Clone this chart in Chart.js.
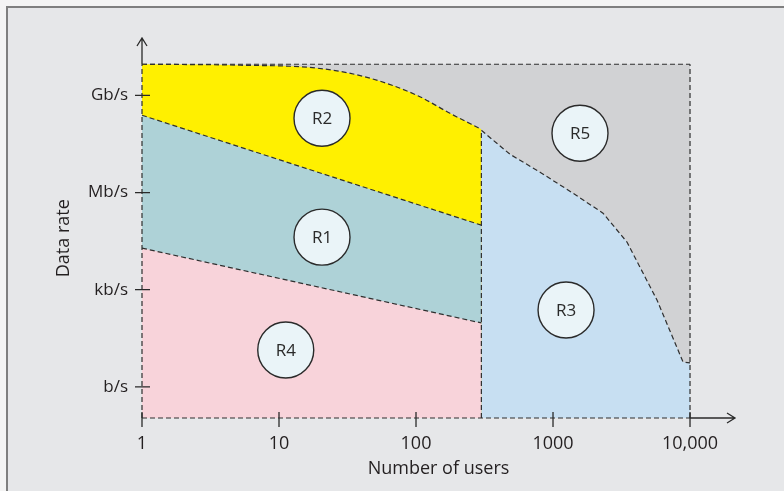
<!DOCTYPE html>
<html>
<head>
<meta charset="utf-8">
<script src="https://cdn.jsdelivr.net/npm/chart.js@4"></script>
<style>
  body { margin: 0; background: #f4f4f4; }
  #wrap { width: 784px; height: 491px; }
</style>
</head>
<body>
<div id="wrap"><canvas id="myChart" width="784" height="491"></canvas></div>
<script>
// axis ticks
const xTickValues = [1, 10, 100, 1000, 10000];
const xTickLabels = ["1", "10", "100", "1000", "10,000"];
const yTickValues = [0, 1, 2, 3];
const yTickLabels = ["b/s", "kb/s", "Mb/s", "Gb/s"];

// region outlines (x = number of users, y = data rate level, 0 = b/s ... 3 = Gb/s)
const rateFloor = -0.32;
const rateCeil = 3.32;
const r5Users = [1, 10000];
const r5Rate = [3.32, 3.32];
const r2Users = [1, 5.2, 18.9, 43.9, 101.7, 177, 300];
const r2Rate = [3.32, 3.31, 3.28, 3.185, 3.0, 2.815, 2.65];
const r1Users = [1, 300];
const r1Rate = [2.795, 1.664];
const r4Users = [1, 300];
const r4Rate = [1.428, 0.658];
const r3Users = [300, 485, 804, 1400, 2317, 3467, 5740, 8890, 10000];
const r3Rate = [2.64, 2.394, 2.209, 1.993, 1.788, 1.49, 0.894, 0.257, 0.247];

// region labels
const regionNames = ["R1", "R2", "R3", "R4", "R5"];
const labelUsers = [20.6, 20.6, 1245, 11.2, 1574];
const labelRate = [1.541, 2.764, 0.791, 0.38, 2.61];

const pts = (xs, ys) => xs.map((x, i) => ({ x: x, y: ys[i] }));
const dashColor = "#2f2f2f";

function region(xs, ys, color, order, smooth) {
  return {
    data: pts(xs, ys),
    borderColor: dashColor,
    borderWidth: 1.2,
    borderDash: [5, 3],
    backgroundColor: color,
    fill: { value: rateFloor },
    pointRadius: 0,
    cubicInterpolationMode: smooth ? "monotone" : "default",
    order: order,
    clip: false,
  };
}

function edge(xs, ys) {
  return {
    data: pts(xs, ys),
    borderColor: dashColor,
    borderWidth: 1.2,
    borderDash: [5, 3],
    fill: false,
    pointRadius: 0,
    order: 2,
    clip: false,
  };
}

const framePlugin = {
  id: "frame",
  beforeDraw(chart) {
    const c = chart.ctx;
    c.save();
    c.fillStyle = "#f4f4f4";
    c.fillRect(0, 0, chart.width, chart.height);
    c.fillStyle = "#e6e7e9";
    c.fillRect(7, 7, chart.width - 7, chart.height - 7);
    c.strokeStyle = "#7f7f7f";
    c.lineWidth = 2;
    c.beginPath();
    c.moveTo(7, chart.height);
    c.lineTo(7, 7);
    c.lineTo(chart.width, 7);
    c.stroke();
    c.restore();
  },
  afterDatasetsDraw(chart) {
    const c = chart.ctx;
    const xs = chart.scales.x, ys = chart.scales.y;
    const x0 = xs.getPixelForValue(1);
    const y0 = ys.getPixelForValue(rateFloor);
    c.save();
    c.strokeStyle = "#2a2a2a";
    c.lineWidth = 1.3;
    // y axis stem + arrow
    const yTopPx = ys.top;
    c.beginPath();
    c.moveTo(x0, ys.getPixelForValue(rateCeil));
    c.lineTo(x0, yTopPx);
    c.moveTo(x0 - 5, yTopPx + 8);
    c.lineTo(x0, yTopPx);
    c.lineTo(x0 + 5, yTopPx + 8);
    // x axis stem + arrow
    const xEnd = xs.right;
    c.moveTo(xs.getPixelForValue(10000), y0);
    c.lineTo(xEnd, y0);
    c.moveTo(xEnd - 8, y0 - 5);
    c.lineTo(xEnd, y0);
    c.lineTo(xEnd - 8, y0 + 5);
    // tick marks
    yTickValues.forEach(v => {
      const p = ys.getPixelForValue(v);
      c.moveTo(x0 - 7, p);
      c.lineTo(x0 + 8, p);
    });
    xTickValues.forEach(v => {
      const p = xs.getPixelForValue(v);
      c.moveTo(p, y0 - 6);
      c.lineTo(p, y0 + 9);
    });
    c.stroke();

    c.fillStyle = "#231f20";
    c.textAlign = "center";
    c.textBaseline = "middle";

    // y axis title, a bit below the axis centre as in the original
    c.font = "18px 'Open Sans', sans-serif";
    c.save();
    c.translate(64, ys.getPixelForValue(1.53));
    c.rotate(-Math.PI / 2);
    c.fillText("Data rate", 0, 0);
    c.restore();

    // region names inside the circles
    const meta = chart.getDatasetMeta(chart.data.datasets.length - 1);
    c.fillStyle = "#2a2a2a";
    c.font = "17px 'Open Sans', sans-serif";
    meta.data.forEach((pt, i) => {
      c.fillText(regionNames[i], pt.x, pt.y + 1);
    });
    c.restore();
  },
};

Chart.defaults.font.family = "'Open Sans', sans-serif";
Chart.defaults.color = "#231f20";

new Chart(document.getElementById("myChart"), {
  type: "line",
  data: {
    datasets: [
      region(r5Users, r5Rate, "#d1d2d4", 10, false),
      region(r3Users, r3Rate, "#c7dff2", 9, false),
      region(r2Users, r2Rate, "#fff000", 8, true),
      region(r1Users, r1Rate, "#aed2d7", 7, false),
      region(r4Users, r4Rate, "#f8d3da", 6, false),
      edge([1, 1], [rateFloor, rateCeil]),
      edge([300, 300], [rateFloor, r3Rate[0]]),
      edge([10000, 10000], [rateFloor, rateCeil]),
      edge([1, 10000], [rateFloor, rateFloor]),
      {
        type: "scatter",
        data: pts(labelUsers, labelRate),
        pointRadius: 28,
        pointBackgroundColor: "#eaf4f8",
        pointBorderColor: "#2a2a2a",
        pointBorderWidth: 1.4,
        order: 1,
        clip: false,
      },
    ],
  },
  options: {
    responsive: false,
    animation: false,
    layout: { padding: { left: 0, top: 38, right: 49, bottom: 0 } },
    scales: {
      x: {
        type: "logarithmic",
        min: 1,
        max: 21300,
        afterBuildTicks: s => { s.ticks = xTickValues.map(v => ({ value: v })); },
        afterFit: s => { s.height = 73; },
        grid: { display: false, drawTicks: false },
        border: { display: false },
        ticks: {
          padding: 15,
          font: { size: 18 },
          callback: (v, i) => xTickLabels[i],
          maxRotation: 0,
          autoSkip: false,
        },
        title: {
          display: true,
          text: "Number of users",
          font: { size: 18 },
          padding: { top: 0, bottom: 11 },
        },
      },
      y: {
        type: "linear",
        min: rateFloor,
        max: 3.59,
        afterBuildTicks: s => { s.ticks = yTickValues.map(v => ({ value: v })); },
        afterFit: s => { s.width = 142; },
        grid: { display: false, drawTicks: false },
        border: { display: false },
        ticks: {
          padding: 14,
          font: { size: 17 },
          callback: (v, i) => yTickLabels[i],
          autoSkip: false,
        },
      },
    },
    plugins: {
      legend: { display: false },
      tooltip: { enabled: false },
    },
  },
  plugins: [framePlugin],
});
</script>
</body>
</html>
